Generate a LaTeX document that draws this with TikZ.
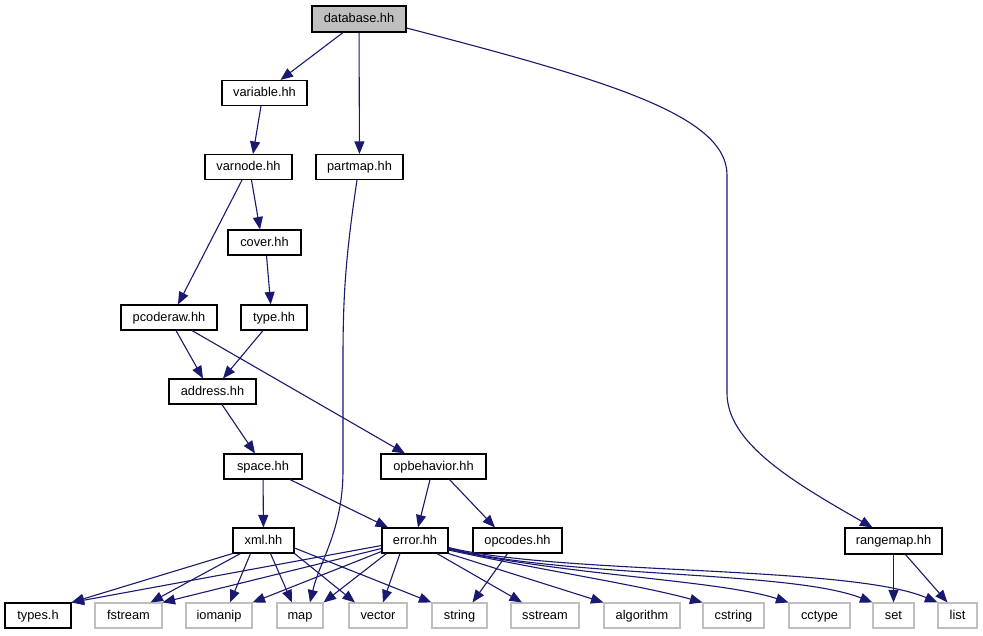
\documentclass[tikz,border=0pt]{standalone}
\usepackage{fontspec}
\setmainfont{Liberation Sans}
\usetikzlibrary{arrows.meta}
\definecolor{edgec}{HTML}{191970}
\definecolor{sysgray}{HTML}{BFBFBF}
\begin{document}
\begin{tikzpicture}[x=1pt,y=-1pt,
 box/.style={draw=black, line width=1.1pt, rectangle, minimum height=25pt, inner sep=0pt, text height=9.5pt, text depth=2.5pt, font=\fontsize{12.8}{14}\selectfont, text=black, fill=white},
 sys/.style={box, draw=sysgray},
 topbox/.style={box, fill=sysgray},
 edge/.style={draw=edgec, line width=1.1pt, -{Triangle[length=12.5pt,width=10pt]}}]
\useasboundingbox[fill=white] (0,0) rectangle (983,635);
% project nodes
\node[topbox, minimum width=94, minimum height=26] (database) at (359,19) {database.hh};
\node[box, minimum width=85] (variable) at (264.5,93) {variable.hh};
\node[box, minimum width=87] (varnode) at (248.5,167) {varnode.hh};
\node[box, minimum width=87] (partmap) at (359.5,167) {partmap.hh};
\node[box, minimum width=73] (cover) at (264.5,242.5) {cover.hh};
\node[box, minimum width=96] (pcoderaw) at (169,317.5) {pcoderaw.hh};
\node[box, minimum width=66] (type) at (274,317.5) {type.hh};
\node[box, minimum width=87] (address) at (212.5,391.5) {address.hh};
\node[box, minimum width=78] (space) at (263,466.5) {space.hh};
\node[box, minimum width=105] (opbehavior) at (433.5,466.5) {opbehavior.hh};
\node[box, minimum width=61] (xml) at (263.5,540.5) {xml.hh};
\node[box, minimum width=66] (error) at (415,540.5) {error.hh};
\node[box, minimum width=89] (opcodes) at (517.5,540.5) {opcodes.hh};
\node[box, minimum width=97, minimum height=26] (rangemap) at (893.5,541) {rangemap.hh};
% bottom row
\node[box, minimum width=66] (types) at (38,615.5) {types.h};
\node[sys, minimum width=67] (fstream) at (128.5,615.5) {fstream};
\node[sys, minimum width=66] (iomanip) at (219,615.5) {iomanip};
\node[sys, minimum width=46] (map) at (300,615.5) {map};
\node[sys, minimum width=58] (vector) at (378,615.5) {vector};
\node[sys, minimum width=55] (string) at (459.5,615.5) {string};
\node[sys, minimum width=68] (sstream) at (545,615.5) {sstream};
\node[sys, minimum width=76] (algorithm) at (642,615.5) {algorithm};
\node[sys, minimum width=61] (cstring) at (733.5,615.5) {cstring};
\node[sys, minimum width=61] (cctype) at (819.5,615.5) {cctype};
\node[sys, minimum width=41] (set) at (893.5,615.5) {set};
\node[sys, minimum width=39] (list) at (957.5,615.5) {list};
% edges
\draw[edge] ([xshift=-16pt]database.south) -- ([xshift=16pt]variable.north);
\draw[edge] (database) -- (partmap);
\draw[edge] ([yshift=-9pt]database.east) .. controls (606,80) and (727,115) .. (727,175) -- (727,393) .. controls (727,443) and (793,482) .. ([xshift=-21pt]rangemap.north);
\draw[edge] ([xshift=-3.5pt]variable.south) -- ([xshift=4.5pt]varnode.north);
\draw[edge] ([xshift=-6.5pt]varnode.south) -- ([xshift=9pt]pcoderaw.north);
\draw[edge] ([xshift=3pt]varnode.south) -- ([xshift=-4.5pt]cover.north);
\draw[edge] ([xshift=2pt]cover.south) -- ([xshift=-3.3pt]type.north);
\draw[edge] ([xshift=-11pt]type.south) -- ([xshift=10.5pt]address.north);
\draw[edge] ([xshift=7pt]pcoderaw.south) -- ([xshift=-9.5pt]address.north);
\draw[edge] ([xshift=23pt]pcoderaw.south) -- ([xshift=-28.5pt]opbehavior.north);
\draw[edge] ([xshift=9.5pt]address.south) -- ([xshift=-8pt]space.north);
\draw[edge] (space) -- (xml);
\draw[edge] ([xshift=27pt]space.south) -- ([xshift=-27pt]error.north);
\draw[edge] ([xshift=-3.5pt]opbehavior.south) -- ([xshift=3pt]error.north);
\draw[edge] ([xshift=16pt]opbehavior.south) -- ([xshift=-22.5pt]opcodes.north);
\draw[edge] ([xshift=-2.5pt]partmap.south) .. controls (345,260) and (343,300) .. (343,360) -- (343,470) .. controls (343,530) and (320,560) .. ([xshift=10pt]map.north);
% xml.hh
\draw[edge] (xml.south west) -- (types.north east);
\draw[edge] ([xshift=8pt]xml.south west) -- ([xshift=22pt]fstream.north);
\draw[edge] ([xshift=-13pt]xml.south) -- ([xshift=11pt]iomanip.north);
\draw[edge] ([xshift=7pt]xml.south) -- ([xshift=-8pt]map.north);
\draw[edge] (xml.south east) -- ([xshift=-23pt]vector.north);
\draw[edge] ([yshift=-7.5pt]xml.east) -- (string.north west);
% error.hh
\draw[edge] ([yshift=-5pt]error.west) -- (types.north east);
\draw[edge] ([yshift=-8pt]error.west) -- (fstream.north east);
\draw[edge] ([yshift=-11pt]error.west) -- (iomanip.north east);
\draw[edge] ([xshift=5pt]error.south west) -- (map.north east);
\draw[edge] ([xshift=-15pt]error.south) -- ([xshift=5pt]vector.north);
\draw[edge] ([xshift=22pt]error.south) -- ([xshift=-23pt]sstream.north);
\draw[edge] (error.south east) -- (algorithm.north west);
\draw[edge] ([yshift=-9.5pt]error.east) .. controls (540,570) and (640,585) .. (cstring.north west);
\draw[edge] ([yshift=-8.5pt]error.east) .. controls (560,575) and (720,580) .. (cctype.north west);
\draw[edge] ([yshift=-7.5pt]error.east) .. controls (560,578) and (790,570) .. (set.north west);
\draw[edge] ([yshift=-7pt]error.east) .. controls (560,575) and (850,565) .. (list.north west);
% opcodes / rangemap
\draw[edge] ([xshift=-10pt]opcodes.south) -- ([xshift=13pt]string.north);
\draw[edge] (rangemap) -- (set);
\draw[edge] ([xshift=12pt]rangemap.south) -- ([xshift=-10pt]list.north);
\end{tikzpicture}
\end{document}
